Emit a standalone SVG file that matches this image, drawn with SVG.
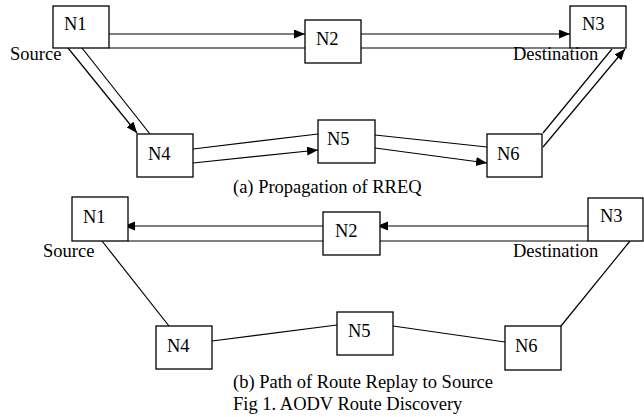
<svg xmlns="http://www.w3.org/2000/svg" width="644" height="417" viewBox="0 0 644 417">
<style>
.box{fill:#fff;stroke:#000;stroke-width:1.3}
.lbl{font-family:'Liberation Serif','Times New Roman','DejaVu Serif',serif;font-size:18.5px;fill:#000}
.ln{stroke:#000;stroke-width:1.2;fill:none}
.ar{marker-end:url(#ah)}
</style>
<defs>
<marker id="ah" markerUnits="userSpaceOnUse" markerWidth="12" markerHeight="10" refX="11" refY="4.5" orient="auto">
<path d="M0,0 L11,4.5 L0,9 Z" fill="#000"/>
</marker>
</defs>
<rect width="644" height="417" fill="#fff"/>
<g id="connectors">
<line class="ln ar" x1="109" y1="34" x2="305" y2="34"/>
<line class="ln" x1="109" y1="48" x2="305" y2="48"/>
<line class="ln ar" x1="361" y1="34" x2="570" y2="34"/>
<line class="ln" x1="361" y1="48" x2="570" y2="48"/>
<line class="ln ar" x1="68" y1="48" x2="137" y2="133"/>
<line class="ln" x1="82" y1="48" x2="150" y2="134"/>
<line class="ln" x1="193" y1="149" x2="318" y2="134"/>
<line class="ln ar" x1="193" y1="163" x2="318" y2="150"/>
<line class="ln" x1="375" y1="135" x2="487" y2="147"/>
<line class="ln ar" x1="375" y1="148" x2="487" y2="163"/>
<line class="ln" x1="543" y1="133" x2="612" y2="49"/>
<line class="ln ar" x1="543" y1="147" x2="625" y2="49"/>
<line class="ln ar" x1="323" y1="226" x2="124" y2="226"/>
<line class="ln" x1="128" y1="241" x2="323" y2="241"/>
<line class="ln ar" x1="588" y1="226" x2="377" y2="226"/>
<line class="ln" x1="380" y1="241" x2="588" y2="241"/>
<line class="ln" x1="102" y1="241" x2="169" y2="326"/>
<line class="ln" x1="212" y1="341" x2="337" y2="325"/>
<line class="ln" x1="393" y1="326" x2="505" y2="342"/>
<line class="ln" x1="561" y1="326" x2="630" y2="241"/>
</g>
<g id="a-N1"><rect class="box" x="53" y="6" width="56" height="42"/><text class="lbl" x="64" y="30">N1</text></g>
<g id="a-N2"><rect class="box" x="305" y="20" width="56" height="43"/><text class="lbl" x="316" y="45">N2</text></g>
<g id="a-N3"><rect class="box" x="570" y="6" width="56" height="42"/><text class="lbl" x="582" y="30">N3</text></g>
<g id="a-N4"><rect class="box" x="137" y="134" width="56" height="43"/><text class="lbl" x="148" y="160">N4</text></g>
<g id="a-N5"><rect class="box" x="318" y="120" width="57" height="43"/><text class="lbl" x="327" y="145">N5</text></g>
<g id="a-N6"><rect class="box" x="487" y="134" width="55" height="43"/><text class="lbl" x="497" y="160">N6</text></g>
<text class="lbl" x="10" y="60">Source</text>
<text class="lbl" x="513" y="60">Destination</text>
<text class="lbl" x="233" y="193">(a) Propagation of RREQ</text>
<g id="b-N1"><rect class="box" x="72" y="197" width="56" height="44"/><text class="lbl" x="83" y="223">N1</text></g>
<g id="b-N2"><rect class="box" x="323" y="212" width="57" height="43"/><text class="lbl" x="335" y="237">N2</text></g>
<g id="b-N3"><rect class="box" x="588" y="198" width="55" height="43"/><text class="lbl" x="600" y="222">N3</text></g>
<g id="b-N4"><rect class="box" x="156" y="326" width="56" height="43"/><text class="lbl" x="167" y="352">N4</text></g>
<g id="b-N5"><rect class="box" x="337" y="312" width="56" height="43"/><text class="lbl" x="348" y="337">N5</text></g>
<g id="b-N6"><rect class="box" x="505" y="326" width="56" height="44"/><text class="lbl" x="515" y="352">N6</text></g>
<text class="lbl" x="43" y="257">Source</text>
<text class="lbl" x="513" y="257">Destination</text>
<text class="lbl" x="233" y="388">(b) Path of Route Replay to Source</text>
<text class="lbl" x="233" y="410">Fig 1. AODV Route Discovery</text>
</svg>
